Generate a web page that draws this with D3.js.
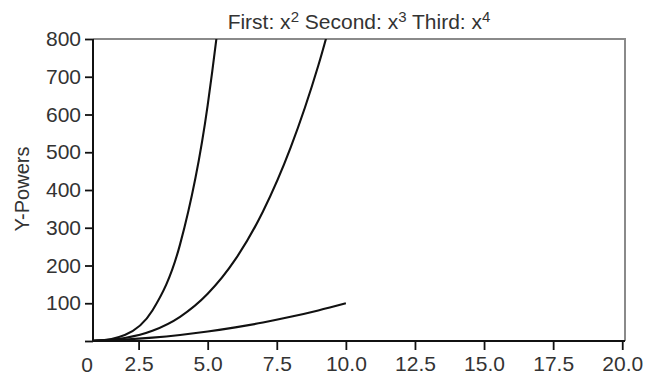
<!DOCTYPE html>
<html>
<head>
<meta charset="utf-8">
<script src="https://cdn.jsdelivr.net/npm/d3@7"></script>
<style>
  body { margin: 0; background: #fff; }
  text { font-family: "Liberation Sans", Arial, sans-serif; fill: #333; }
  .axis text { font-size: 21px; }
  .axis line { stroke: #111; stroke-width: 1.8; }
</style>
</head>
<body>
<div id="chart"></div>
<script>
// x sample points and the three power series
const xValues = [0, 1, 2, 3, 4, 5, 6, 7, 8, 9, 10];
const firstValues = [0, 1, 4, 9, 16, 25, 36, 49, 64, 81, 100];
const secondValues = [0, 1, 8, 27, 64, 125, 216, 343, 512, 729, 1000];
const thirdValues = [0, 1, 16, 81, 256, 625, 1296, 2401, 4096, 6561, 10000];

const xTicks = [2.5, 5, 7.5, 10, 12.5, 15, 17.5, 20];
const yTicks = [0, 100, 200, 300, 400, 500, 600, 700, 800];

const config = {
  width: 655,
  height: 379,
  margin: {top: 39, right: 30, bottom: 38, left: 93}
};

const svg = d3.select('#chart').append('svg')
  .attr('width', config.width)
  .attr('height', config.height);

const innerW = config.width - config.margin.left - config.margin.right;
const innerH = config.height - config.margin.top - config.margin.bottom;

const xScale = d3.scaleLinear().domain([0.85, 20.1]).range([0, innerW]);
const yScale = d3.scaleLinear().domain([0, 800]).range([innerH, 0]);

const chart = svg.append('g')
  .attr('transform', `translate(${config.margin.left},${config.margin.top})`);

chart.append('defs').append('clipPath')
  .attr('id', 'plot-clip')
  .append('rect')
  .attr('width', innerW)
  .attr('height', innerH);

// frame: grey top and right
chart.append('path')
  .attr('d', `M0,0H${innerW}V${innerH}`)
  .attr('fill', 'none')
  .attr('stroke', '#8a8a8a')
  .attr('stroke-width', 2);

// axes
const xAxis = d3.axisBottom(xScale)
  .tickValues(xTicks)
  .tickFormat(d3.format('.1f'))
  .tickSize(9)
  .tickPadding(6)
  .tickSizeOuter(0);

const yAxis = d3.axisLeft(yScale)
  .tickValues(yTicks)
  .tickFormat(d => d === 0 ? '' : d)
  .tickSize(8)
  .tickPadding(4)
  .tickSizeOuter(0);

chart.append('g')
  .attr('class', 'axis x-axis')
  .attr('transform', `translate(0,${innerH})`)
  .call(xAxis);

chart.append('g')
  .attr('class', 'axis y-axis')
  .call(yAxis);

chart.selectAll('.axis .domain').remove();

chart.append('line')
  .attr('x1', 0).attr('x2', innerW)
  .attr('y1', innerH).attr('y2', innerH)
  .attr('stroke', '#111').attr('stroke-width', 2);
chart.append('line')
  .attr('x1', 0).attr('x2', 0)
  .attr('y1', 0).attr('y2', innerH)
  .attr('stroke', '#111').attr('stroke-width', 2);

// origin label
chart.append('text')
  .attr('x', -6)
  .attr('y', innerH + 31)
  .attr('text-anchor', 'middle')
  .style('font-size', '21px')
  .text('0');

// series
const series = [firstValues, secondValues, thirdValues];
const line = d3.line()
  .x((d, i) => xScale(xValues[i]))
  .y(d => yScale(d))
  .curve(d3.curveMonotoneX);

chart.append('g')
  .attr('clip-path', 'url(#plot-clip)')
  .selectAll('.series')
  .data(series)
  .join('path')
  .attr('class', 'series')
  .attr('d', line)
  .attr('fill', 'none')
  .attr('stroke', '#111')
  .attr('stroke-width', 2.1)
  .attr('stroke-linejoin', 'round');

// y label
svg.append('text')
  .attr('transform', `translate(29,189) rotate(-90)`)
  .attr('text-anchor', 'middle')
  .style('font-size', '20px')
  .text('Y-Powers');

// title
const title = svg.append('text')
  .attr('x', config.margin.left + innerW / 2)
  .attr('y', 29)
  .attr('text-anchor', 'middle')
  .style('font-size', '21px');
const parts = [['First: x', '2'], [' Second: x', '3'], [' Third: x', '4']];
parts.forEach(([t, sup]) => {
  title.append('tspan').text(t);
  title.append('tspan')
    .attr('baseline-shift', '50%')
    .style('font-size', '15px')
    .text(sup);
});
</script>
</body>
</html>
